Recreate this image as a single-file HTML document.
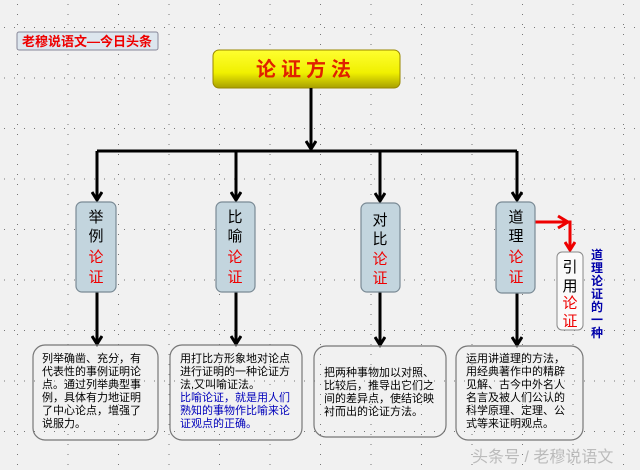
<!DOCTYPE html>
<html><head><meta charset="utf-8"><style>
body{margin:0;width:640px;height:470px;overflow:hidden;background:#f1f1f1;font-family:"Liberation Sans","Noto Sans CJK SC",sans-serif}
</style></head><body>
<svg width="640" height="470" xmlns="http://www.w3.org/2000/svg" style="position:absolute;left:0;top:0">
<defs>
<pattern id="v" x="17" y="0" width="50.5" height="10" patternUnits="userSpaceOnUse"><rect x="0" y="4" width="1" height="1" fill="#777"/></pattern>
<pattern id="h" x="0" y="27" width="10" height="50.5" patternUnits="userSpaceOnUse"><rect x="4" y="0" width="1" height="1" fill="#777"/></pattern>
<linearGradient id="y" x1="0" y1="0" x2="0" y2="1"><stop offset="0" stop-color="#ffff30"/><stop offset="0.6" stop-color="#f0f000"/><stop offset="1" stop-color="#a8a000"/></linearGradient>
<marker id="a" markerWidth="12" markerHeight="12" refX="9" refY="6" orient="auto" markerUnits="userSpaceOnUse"><path d="M1,1 L9,6 L1,11" fill="none" stroke="#000" stroke-width="3"/></marker>
<marker id="r" markerWidth="12" markerHeight="12" refX="9" refY="6" orient="auto" markerUnits="userSpaceOnUse"><path d="M1,1 L9,6 L1,11" fill="none" stroke="#e00" stroke-width="3"/></marker>
</defs>
<rect width="640" height="470" fill="url(#v)"/>
<rect width="640" height="470" fill="url(#h)"/>
<rect x="17" y="32" width="141" height="18" rx="2" fill="#dde6ee" stroke="#889" />
<text x="87" y="46" font-size="13" font-weight="bold" fill="#e00" text-anchor="middle">老穆说语文—今日头条</text>
<rect x="213" y="50" width="187" height="38" rx="6" fill="url(#y)" stroke="#998800"/>
<text x="306" y="76" font-size="20" font-weight="bold" fill="#e02000" text-anchor="middle" letter-spacing="5">论证方法</text>
<g stroke="#000" stroke-width="3" fill="none">
<line x1="311" y1="88" x2="311" y2="149" marker-end="url(#a)"/>
<line x1="97" y1="151" x2="517" y2="151"/>
<line x1="97" y1="151" x2="97" y2="200" marker-end="url(#a)"/>
<line x1="236" y1="151" x2="236" y2="200" marker-end="url(#a)"/>
<line x1="380" y1="151" x2="380" y2="201" marker-end="url(#a)"/>
<line x1="517" y1="151" x2="517" y2="200" marker-end="url(#a)"/>
<line x1="97" y1="292" x2="97" y2="344" marker-end="url(#a)"/>
<line x1="236" y1="292" x2="236" y2="344" marker-end="url(#a)"/>
<line x1="380" y1="292" x2="380" y2="345" marker-end="url(#a)"/>
<line x1="517" y1="293" x2="517" y2="345" marker-end="url(#a)"/>
</g>
<g stroke="#e00" stroke-width="3" fill="none">
<polyline points="535,222 570,222 570,250" marker-end="url(#r)"/>
<line x1="558" y1="216" x2="568" y2="222"/><line x1="558" y1="228" x2="568" y2="222"/>
</g>
<g fill="#c3d5de" stroke="#7a8a95" stroke-width="1.2">
<rect x="76" y="202" width="40" height="90" rx="6"/>
<rect x="216" y="202" width="39" height="90" rx="6"/>
<rect x="361" y="203" width="39" height="89" rx="6"/>
<rect x="496" y="202" width="39" height="91" rx="6"/>
</g>
<rect x="557" y="252" width="26" height="78" rx="5" fill="#fafafa" stroke="#888"/>
<g font-size="15" text-anchor="middle">
<text x="96" y="222">举</text><text x="96" y="241">例</text><text x="96" y="262" fill="#e00">论</text><text x="96" y="282" fill="#e00">证</text>
<text x="235" y="222">比</text><text x="235" y="241">喻</text><text x="235" y="262" fill="#e00">论</text><text x="235" y="282" fill="#e00">证</text>
<text x="380" y="225">对</text><text x="380" y="244">比</text><text x="380" y="264" fill="#e00">论</text><text x="380" y="283" fill="#e00">证</text>
<text x="516" y="222">道</text><text x="516" y="241">理</text><text x="516" y="262" fill="#e00">论</text><text x="516" y="282" fill="#e00">证</text>
<text x="570" y="272">引</text><text x="570" y="291">用</text><text x="570" y="308" fill="#e00">论</text><text x="570" y="326" fill="#e00">证</text>
</g>
<g font-size="12" font-weight="bold" fill="#0000aa" text-anchor="middle">
<text x="597" y="259">道</text><text x="597" y="272">理</text><text x="597" y="285">论</text><text x="597" y="298">证</text><text x="597" y="311">的</text><text x="597" y="324">一</text><text x="597" y="337">种</text>
</g>
<g fill="none" stroke="#777" stroke-width="1.2">
<rect x="33" y="345" width="125" height="95" rx="12"/>
<rect x="170" y="345" width="132" height="95" rx="12"/>
<rect x="314" y="346" width="132" height="91" rx="12"/>
<rect x="456" y="346" width="127" height="94" rx="12"/>
</g>
<g font-size="11">
<text x="42" y="362">列举确凿、充分，有</text><text x="42" y="375">代表性的事例证明论</text><text x="42" y="388">点。通过列举典型事</text><text x="42" y="401">例，具体有力地证明</text><text x="42" y="414">了中心论点，增强了</text><text x="42" y="427">说服力。</text>
<text x="180" y="362">用打比方形象地对论点</text><text x="180" y="375">进行证明的一种论证方</text><text x="180" y="388">法,又叫喻证法。</text>
<g fill="#0000bb"><text x="180" y="401">比喻论证，就是用人们</text><text x="180" y="414">熟知的事物作比喻来论</text><text x="180" y="427">证观点的正确。</text></g>
<text x="324" y="376">把两种事物加以对照、</text><text x="324" y="389">比较后，推导出它们之</text><text x="324" y="402">间的差异点，使结论映</text><text x="324" y="415">衬而出的论证方法。</text>
<text x="466" y="362">运用讲道理的方法，</text><text x="466" y="375">用经典著作中的精辟</text><text x="466" y="388">见解、古今中外名人</text><text x="466" y="401">名言及被人们公认的</text><text x="466" y="414">科学原理、定理、公</text><text x="466" y="427">式等来证明观点。</text>
</g>
<text x="472" y="462" font-size="16" fill="#bbb">头条号 / 老穆说语文</text>
</svg>
</body></html>
